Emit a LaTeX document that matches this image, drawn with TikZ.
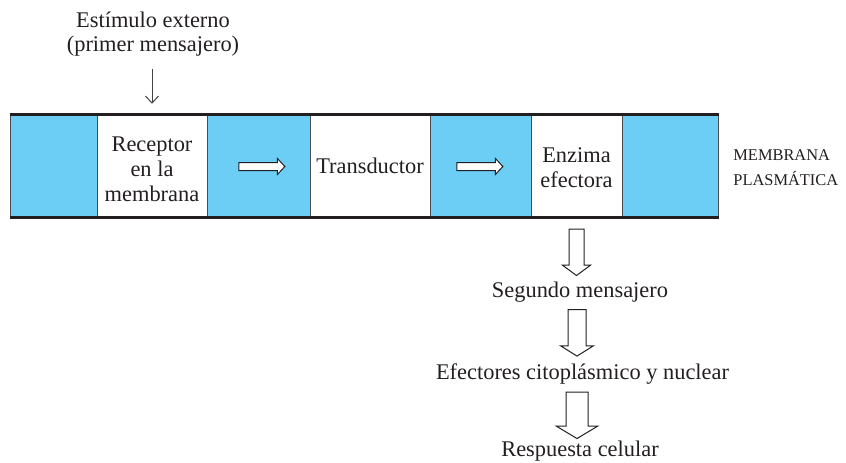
\documentclass[tikz,border=0pt]{standalone}
\usepackage{fontspec}
\setmainfont{Liberation Serif}
\usetikzlibrary{shapes.arrows, arrows.meta, positioning}
\usepackage{xcolor}
\definecolor{Lipid}{HTML}{6CCEF5}
\definecolor{Divider}{HTML}{4A4A4A}
\definecolor{Ink}{HTML}{231F20}

\begin{document}
\begin{tikzpicture}[x=0.5pt, y=-0.5pt,
        cell/.style={rectangle, draw=Divider, line width=0.5pt, minimum height=50.75pt, inner sep=0pt, align=center, font=\fontsize{11.2}{12.5}\selectfont, text=Ink},
        lipid/.style={cell, fill=Lipid},
        membline/.style={line width=1.4pt, draw=Ink},
        flowarrow/.style={single arrow, draw=Ink, line width=0.5pt, fill=white, inner sep=1.75pt, minimum width=0pt, single arrow head extend=2pt, single arrow tip angle=94, minimum height=23pt},
        downarrow/.style={flowarrow, rotate=-90, minimum height=23.25pt, single arrow head extend=3.25pt, inner sep=3.5pt, single arrow tip angle=107},
        txt/.style={align=center, font=\fontsize{11.2}{12}\selectfont, text=Ink, inner sep=0pt},
        small/.style={align=left, font=\fontsize{8.2}{12.5}\selectfont, text=Ink, inner sep=0pt},
        stimarrow/.style={-{Straight Barb[length=3.5pt, width=6.5pt]}, line width=0.5pt, draw=Ink!85}
    ]
        \useasboundingbox (0,0) rectangle (846,462);

        % Membrane cells
        \node[lipid, minimum width=43.5pt] (b1) at (53.5,166) {};
        \node[cell, minimum width=55pt, text height=35.7pt, text depth=0pt] (rec) at (152,166) {Receptor\\en la\\membrana};
        \node[lipid, minimum width=51.5pt] (b2) at (258.5,166) {};
        \node[cell, minimum width=60pt] (tra) at (370,166) {Transductor};
        \node[lipid, minimum width=50.5pt] (b3) at (480.5,166) {};
        \node[cell, minimum width=45.5pt, text height=21.9pt, text depth=0pt] (enz) at (576.5,166) {Enzima\\efectora};
        \node[lipid, minimum width=48pt] (b4) at (670,166) {};

        \draw[membline] (b1.north west) -- (b4.north east);
        \draw[membline] (b1.south west) -- (b4.south east);

        \node[small, anchor=west] (memb) at (733,168) {MEMBRANA\\PLASMÁTICA};

        % Arrows inside membrane
        \node[flowarrow] (arr1) at (260,166.5) {};
        \node[flowarrow] (arr2) at (478,166.5) {};

        % External stimulus
        \node[txt] (stim) at (153,34) {Estímulo externo\\(primer mensajero)};
        \draw[stimarrow, shorten <=6pt, shorten >=5.5pt] (stim.south -| rec) -- (rec.north);

        % Cascade
        \node[downarrow] (down1) at (576.5,249.5) {};
        \node[txt] (seg) at (580,292) {Segundo mensajero};
        \node[downarrow, inner sep=4.25pt, single arrow head extend=3.75pt, single arrow tip angle=116] (down2) at (577,330) {};
        \node[txt] (efe) at (582.5,374) {Efectores citoplásmico y nuclear};
        \node[downarrow, inner sep=5.25pt, single arrow head extend=4.75pt, single arrow tip angle=118] (down3) at (577,412) {};
        \node[txt] (resp) at (580,451) {Respuesta celular};
    \end{tikzpicture}
\end{document}
